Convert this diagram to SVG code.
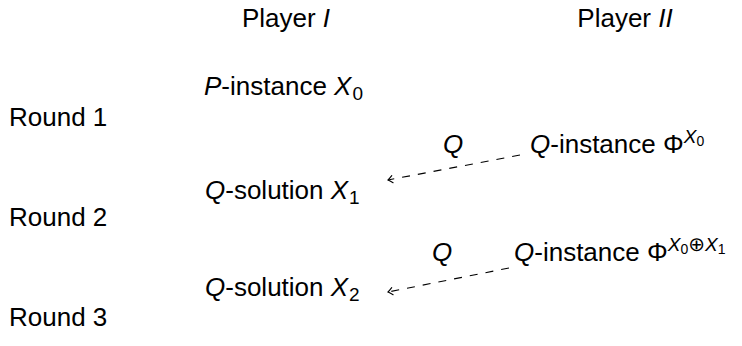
<svg xmlns="http://www.w3.org/2000/svg" width="742" height="346" viewBox="0 0 742 346">
  <style>
    text { font-family: "Liberation Sans", "DejaVu Sans", sans-serif; font-size: 26px; fill: #000; }
    .m { font-style: italic; }
    .sub { font-size: 19px; }
    .sup { font-size: 19px; }
    .ss { font-size: 14px; }
    .op { font-family: "DejaVu Sans", sans-serif; font-size: 20px; }
    .conn { fill: none; stroke: #000; stroke-width: 1.1; stroke-dasharray: 8 8; }
  </style>
  <defs>
    <marker id="to" viewBox="-6 -5 8 10" markerWidth="8" markerHeight="10" refX="0" refY="0" orient="auto" markerUnits="userSpaceOnUse">
      <path d="M -4.5,-3.6 Q -1.5,-1 0,0 Q -1.5,1 -4.5,3.6" fill="none" stroke="#000" stroke-width="1.1" stroke-linecap="round"/>
    </marker>
  </defs>

  <!-- column headings -->
  <g id="player-1"><text x="286" y="27" text-anchor="middle">Player <tspan class="m">I</tspan></text></g>
  <g id="player-2"><text x="625" y="27" text-anchor="middle">Player <tspan class="m">II</tspan></text></g>

  <!-- round labels -->
  <g id="round-1"><text x="9" y="126">Round 1</text></g>
  <g id="round-2"><text x="9" y="226">Round 2</text></g>
  <g id="round-3"><text x="9" y="326">Round 3</text></g>

  <!-- player I moves -->
  <g id="p-instance"><text x="204" y="95"><tspan class="m">P</tspan>-instance <tspan class="m">X</tspan><tspan class="sub" dx="1" dy="5">0</tspan></text></g>
  <g id="q-solution-1"><text x="205" y="199"><tspan class="m">Q</tspan>-solution <tspan class="m">X</tspan><tspan class="sub" dx="1" dy="5">1</tspan></text></g>
  <g id="q-solution-2"><text x="205" y="296"><tspan class="m">Q</tspan>-solution <tspan class="m">X</tspan><tspan class="sub" dx="1" dy="5">2</tspan></text></g>

  <!-- player II moves -->
  <g id="q-instance-1"><text x="530" y="153"><tspan class="m">Q</tspan>-instance Φ<tspan class="sup m" dy="-10">X</tspan><tspan class="ss" dy="3">0</tspan></text></g>
  <g id="q-instance-2"><text x="514" y="261"><tspan class="m">Q</tspan>-instance Φ<tspan class="sup m" dy="-10">X</tspan><tspan class="ss" dy="3">0</tspan><tspan class="op" dy="-3">⊕</tspan><tspan class="sup m">X</tspan><tspan class="ss" dy="3">1</tspan></text></g>

  <!-- reductions -->
  <g id="connectors">
    <line class="conn" x1="520" y1="155" x2="388" y2="180" marker-end="url(#to)"/>
    <text x="443" y="153" class="m">Q</text>
    <line class="conn" x1="509" y1="268" x2="388" y2="292" marker-end="url(#to)"/>
    <text x="432" y="261" class="m">Q</text>
  </g>
</svg>
